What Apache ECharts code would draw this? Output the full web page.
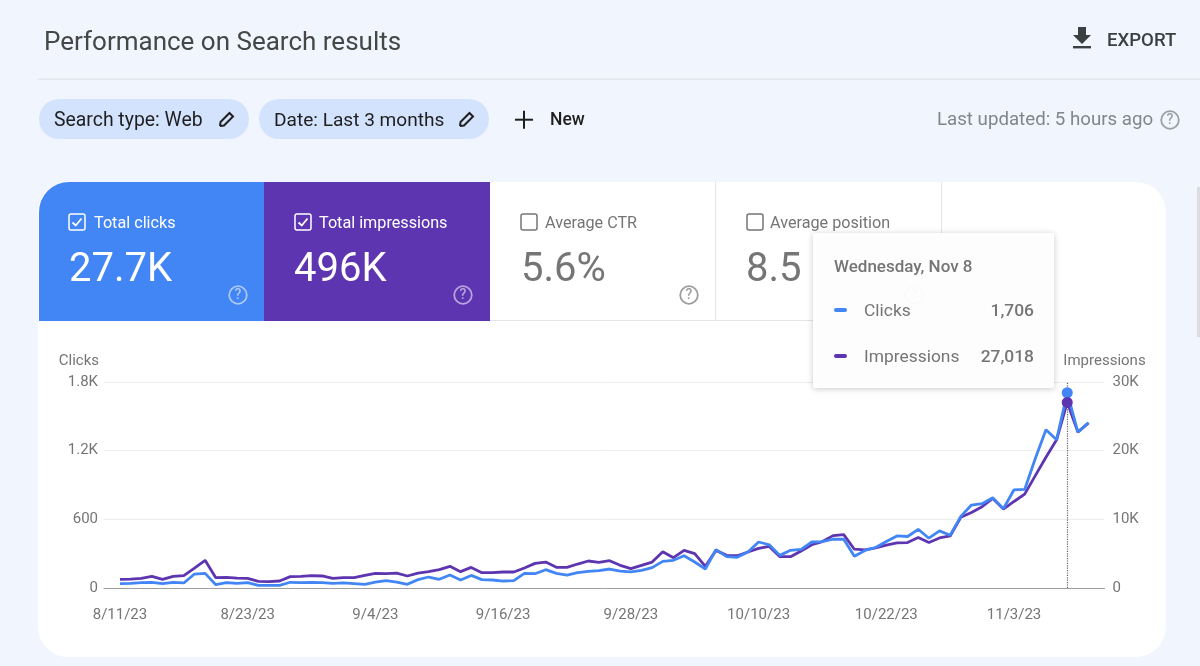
<!DOCTYPE html>
<html>
<head>
<meta charset="utf-8">
<style>html,body{margin:0;padding:0;background:#f1f5fd}#c{width:1200px;height:666px}</style>
<script src="https://cdn.jsdelivr.net/npm/echarts@6/dist/echarts.min.js"></script>
</head>
<body>
<div id="c"></div>
<script>
const dates = ["8/11/23","8/12/23","8/13/23","8/14/23","8/15/23","8/16/23","8/17/23","8/18/23","8/19/23","8/20/23","8/21/23","8/22/23","8/23/23","8/24/23","8/25/23","8/26/23","8/27/23","8/28/23","8/29/23","8/30/23","8/31/23",
"9/1/23","9/2/23","9/3/23","9/4/23","9/5/23","9/6/23","9/7/23","9/8/23","9/9/23","9/10/23","9/11/23","9/12/23","9/13/23","9/14/23","9/15/23","9/16/23","9/17/23","9/18/23","9/19/23","9/20/23","9/21/23","9/22/23","9/23/23","9/24/23","9/25/23","9/26/23","9/27/23","9/28/23","9/29/23","9/30/23",
"10/1/23","10/2/23","10/3/23","10/4/23","10/5/23","10/6/23","10/7/23","10/8/23","10/9/23","10/10/23","10/11/23","10/12/23","10/13/23","10/14/23","10/15/23","10/16/23","10/17/23","10/18/23","10/19/23","10/20/23","10/21/23","10/22/23","10/23/23","10/24/23","10/25/23","10/26/23","10/27/23","10/28/23","10/29/23","10/30/23","10/31/23",
"11/1/23","11/2/23","11/3/23","11/4/23","11/5/23","11/6/23","11/7/23","11/8/23","11/9/23","11/10/23"];
const xTickLabels = ["8/11/23","8/23/23","9/4/23","9/16/23","9/28/23","10/10/23","10/22/23","11/3/23"];
const clicks = [38,41,47,50,38,50,44,122,128,29,
47,41,47,23,23,23,50,47,50,47,
41,44,38,32,52,64,52,32,73,96,
76,113,70,110,73,70,61,64,128,125,
160,128,113,134,145,151,166,148,140,154,
178,233,242,282,227,166,335,274,268,314,
402,378,285,329,338,402,406,426,426,278,
328,354,406,455,450,513,435,499,461,626,
725,737,789,693,858,861,1131,1383,1296,1706,
1363,1444];
const impressions = [1260,1300,1400,1700,1260,1700,1800,2900,4030,1500,
1550,1450,1400,970,920,1020,1650,1700,1800,1750,
1400,1500,1500,1840,2130,2080,2180,1750,2180,2380,
2670,3150,2380,3000,2230,2230,2330,2330,2910,3590,
3780,3010,3010,3490,3930,3740,3980,3300,2810,3300,
3780,5290,4410,5480,5000,3150,5480,4750,4700,5240,
5770,6060,4560,4560,5400,6300,6760,7630,7780,5650,
5550,5840,6230,6570,6620,7340,6620,7290,7580,10290,
11010,11830,13040,11500,12600,13670,16370,19030,21590,27018,
22700,24050];
const clicksTicks = {0:"0",600:"600",1200:"1.2K",1800:"1.8K"};
const imprTicks = {0:"0",10000:"10K",20000:"20K",30000:"30K"};
const peakDate = "11/8/23";
const peakTitle = "Wednesday, Nov 8";

const BLUE="#4285f4", PURPLE="#5e35b1", FONT="Roboto";
const peakIdx = dates.indexOf(peakDate);
// one empty band each side so the plot frame extends past the first/last day
const cats = ["", ...dates, " "];
const pad = a => [null, ...a, null];

const els = [];
const T = (x,y,text,size,fill,o={}) => els.push({type:"text",x,y:y+Math.round(size*0.09),z:o.z||0,style:{text,fill,font:`${o.w||400} ${size}px ${o.f||FONT}`,textAlign:o.a||"left",textVerticalAlign:"middle",opacity:o.op==null?1:o.op}});
const R = (x,y,w,h,fill,r=0,o={}) => els.push({type:"rect",z:o.z||0,shape:{x,y,width:w,height:h,r},style:{fill,opacity:o.op==null?1:o.op,shadowBlur:o.sb||0,shadowColor:o.sc||"transparent",shadowOffsetY:o.sy||0}});
const help = (cx,cy,col,op=1,z=0) => {
  els.push({type:"circle",z,shape:{cx,cy,r:8.8},style:{fill:"none",stroke:col,lineWidth:1.8,opacity:op}});
  T(cx,cy-0.5,"?",14,col,{a:"center",w:500,op,z});
};
const check = (x,y,col,on) => {
  els.push({type:"rect",shape:{x,y,width:16,height:16,r:2},style:{fill:"none",stroke:col,lineWidth:1.5}});
  if(on) els.push({type:"polyline",shape:{points:[[x+3.5,y+8.5],[x+6.8,y+11.5],[x+12.5,y+4.5]]},style:{fill:"none",stroke:col,lineWidth:1.8}});
};
const pencil = (x,y) => {
  els.push({type:"polyline",shape:{points:[[x+2,y+15],[x+2.5,y+11],[x+11.5,y+2],[x+15,y+5.5],[x+6,y+14.5],[x+2,y+15]]},style:{fill:"none",stroke:"#1f1f1f",lineWidth:2}});
};

// page chrome
T(44,41,"Performance on Search results",26,"#444746");
R(38,78.5,1162,1.2,"#e1e4ea");
els.push({type:"polygon",shape:{points:[[1078,27],[1086,27],[1086,35],[1091,35],[1082,44],[1073,35],[1078,35]]},style:{fill:"#3c4043"}});
R(1073,46,18,2.4,"#3c4043");
T(1107,39,"EXPORT",18.6,"#3c4043",{w:500});
R(39,99,210,40,"#d3e3fd",20);
R(259,99,230,40,"#d3e3fd",20);
T(54,119,"Search type: Web",19.4,"#1f1f1f");
pencil(218,111);
T(274,119,"Date: Last 3 months",19.1,"#1f1f1f");
pencil(458,111);
R(515,118.7,18,2,"#1f1f1f");
R(523,110.7,2,18,"#1f1f1f");
T(550,119,"New",17.5,"#1f1f1f",{w:500});
T(937,118.5,"Last updated: 5 hours ago",18.7,"#80868b");
help(1170,120,"#9aa0a6");
R(1197,187,3,150,"#dcdde2");

// card and tiles
R(38,182,1128,475,"#ffffff",30);
R(39,182,225,139,BLUE,[30,0,0,0]);
R(264,182,226,139,PURPLE);
R(490,320,451,1,"#e4e5e7");
R(715,182,1,139,"#e4e5e7");
R(941,182,1,139,"#e4e5e7");
check(69,214,"#ffffff",true);
T(94,223,"Total clicks",16.2,"#ffffff");
T(69,267,"27.7K",40,"#ffffff");
help(238,295,"#ffffff",0.55);
check(295,214,"#ffffff",true);
T(319,223,"Total impressions",16.2,"#ffffff");
T(294,267,"496K",40,"#ffffff");
help(463,295,"#ffffff",0.55);
check(521,214,"#757575",false);
T(545,223,"Average CTR",16.2,"#757575");
T(521,267,"5.6%",40,"#757575");
help(689,295,"#9e9e9e");
check(747,214,"#757575",false);
T(770,223,"Average position",16.2,"#757575");
T(746,267,"8.5",40,"#757575");
help(914,295,"#9e9e9e");

// tooltip panel (drawn above the series)
const tz = 50;
const fmt = n => n.toLocaleString("en-US");
R(813,233,241,155,"#ffffff",2,{z:tz,op:0.96,sb:6,sc:"rgba(0,0,0,0.22)",sy:1});
T(834,265.5,peakTitle,17,"#757575",{w:500,z:tz});
R(834,308,13,4,BLUE,2,{z:tz});
T(864,310,"Clicks",17.4,"#757575",{z:tz});
T(1034,310,fmt(clicks[peakIdx]),17.4,"#757575",{a:"right",w:500,z:tz});
R(834,354,13,4,PURPLE,2,{z:tz});
T(864,355.5,"Impressions",17.4,"#757575",{z:tz});
T(1034,355.5,fmt(impressions[peakIdx]),17.4,"#757575",{a:"right",w:500,z:tz});

const chart = echarts.init(document.getElementById("c"),null,{renderer:"canvas"});
const axisText = {color:"#757575",fontSize:15,fontFamily:FONT};
chart.setOption({
  animation:false,
  backgroundColor:"#f1f5fd",
  grid:{left:104,right:95.5,top:382,bottom:78,containLabel:false},
  graphic:{elements:els},
  xAxis:{type:"category",data:cats,boundaryGap:true,
    axisLine:{lineStyle:{color:"#9e9e9e",width:1}},axisTick:{show:false},splitLine:{show:false},
    axisLabel:{...axisText,margin:20,interval:(i,v)=>xTickLabels.includes(v),hideOverlap:false}},
  yAxis:[
    {type:"value",min:0,max:1800,interval:600,name:"Clicks",nameLocation:"end",nameGap:13,
     nameTextStyle:{...axisText,align:"right",padding:[0,5,0,0]},
     axisLine:{show:false},axisTick:{show:false},
     splitLine:{lineStyle:{color:"#ebedef",width:1}},
     axisLabel:{...axisText,margin:6,padding:[4,0,0,0],formatter:v=>clicksTicks[v]}},
    {type:"value",min:0,max:30000,interval:10000,name:"Impressions",nameLocation:"end",nameGap:13,
     nameTextStyle:{...axisText,align:"center"},
     axisLine:{show:false},axisTick:{show:false},splitLine:{show:false},
     axisLabel:{...axisText,margin:8,padding:[4,0,0,0],formatter:v=>imprTicks[v]}}
  ],
  series:[
    {name:"Impressions",type:"line",yAxisIndex:1,z:3,data:pad(impressions),showSymbol:false,symbol:"none",
     lineStyle:{color:PURPLE,width:2.8},itemStyle:{color:PURPLE}},
    {name:"Clicks",type:"line",yAxisIndex:0,z:4,data:pad(clicks),showSymbol:false,symbol:"none",
     lineStyle:{color:BLUE,width:2.8},itemStyle:{color:BLUE},
     markLine:{silent:true,symbol:"none",label:{show:false},
       lineStyle:{color:"#5f6368",type:"dotted",width:1.2,opacity:1},data:[{xAxis:peakDate}]}},
    {name:"Clicks peak",type:"scatter",yAxisIndex:0,z:5,symbolSize:11,itemStyle:{color:BLUE,opacity:1},
     data:[[peakDate,clicks[peakIdx]]]},
    {name:"Impressions peak",type:"scatter",yAxisIndex:1,z:6,symbolSize:11,itemStyle:{color:PURPLE,opacity:1},
     data:[[peakDate,impressions[peakIdx]]]}
  ]
});
</script>
</body>
</html>
